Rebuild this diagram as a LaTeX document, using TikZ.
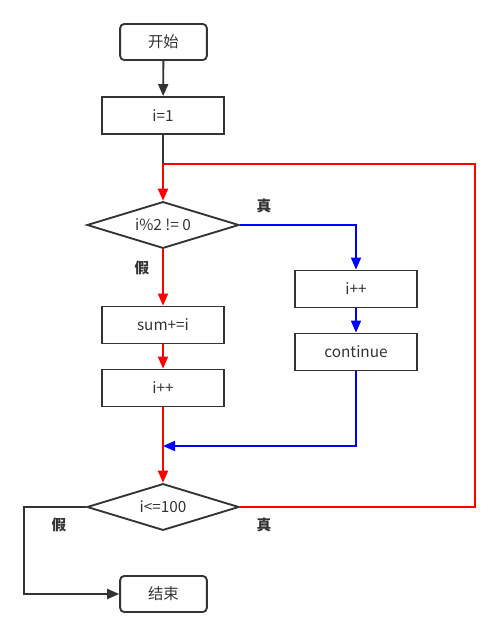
\documentclass[tikz,border=0pt]{standalone}
\usepackage{fontspec}
\newfontfamily\cjk{Noto Sans CJK SC}
\usetikzlibrary{shapes.geometric,arrows.meta}
\definecolor{ink}{HTML}{333333}
\begin{document}
\begin{tikzpicture}[x=0.75pt,y=-0.75pt,>={Triangle[length=9pt,width=7.5pt]},
	every node/.style={font=\cjk\fontsize{11.5}{13}\selectfont,text=ink},
	proc/.style={draw=ink,line width=1.4pt,minimum width=91.5pt,minimum height=27.75pt},
	term/.style={proc,rounded corners=3pt,minimum width=65pt,minimum height=27pt},
	cond/.style={draw=ink,line width=1.4pt,diamond,aspect=3.2,minimum width=114pt,minimum height=35pt,inner sep=0pt},
	lab/.style={font=\cjk\bfseries\fontsize{11}{13}\selectfont},
	line/.style={line width=1.4pt}]
\useasboundingbox (0,0) rectangle (500,637);
	\node[term] (start) at (163.5,42) {开始};
	\node[proc] (init) at (163,115.5) {i=1};
	\node[cond] (odd) at (163,225) {i\%2 != 0};
	\node[proc] (sum) at (163,325) {sum+=i};
	\node[proc] (incl) at (163,388) {i++};
	\node[proc] (incr) at (356,289) {i++};
	\node[proc] (cont) at (356,352) {continue};
	\node[cond] (test) at (163,507) {i<=100};
	\node[term] (stop) at (163.5,594) {结束};
	\coordinate (loop) at (163,164);
	\coordinate (join) at (163,446);

	\node[lab] (t1) at (264,206) {真};	\node[lab] (f1) at (142,268) {假};
	\node[lab] (f2) at (59,525) {假};	\node[lab] (t2) at (264,525) {真};

\draw[line,ink,->] (start) -- (init);
\draw[line,ink] (init) -- (loop);
\draw[line,red,->] (loop) -- (odd);
\draw[line,red,->] (odd) -- (sum);
\draw[line,red,->] (sum) -- (incl);
\draw[line,red,->] (incl) -- (test);
\draw[line,blue,->] (odd.east) -| (incr);
\draw[line,blue,->] (incr) -- (cont);
\draw[line,blue,->] (cont) |- (join);
\draw[line,red] (test.east) -- (475,507) |- (loop);
\draw[line,ink,->] (test.west) -- (24,507) |- (stop);

	\end{tikzpicture}
\end{document}
